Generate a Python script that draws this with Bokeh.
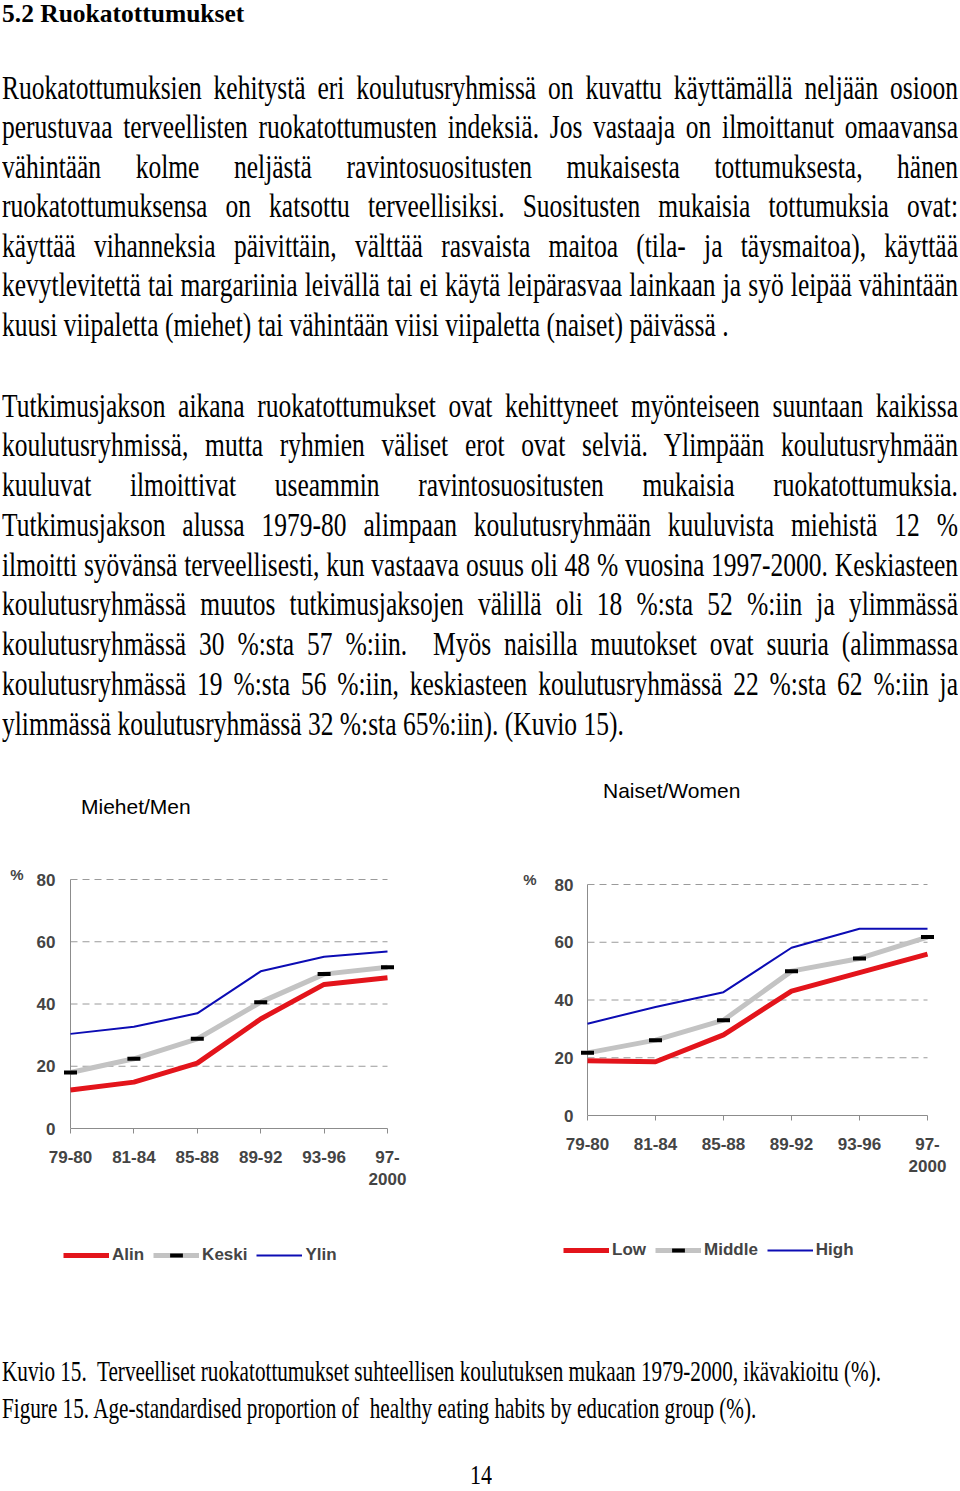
from bokeh.plotting import figure
from bokeh.models import Range1d, Div, Legend, LegendItem, FixedTicker
from bokeh.layouts import column, row
from bokeh.embed import file_html
from bokeh.resources import INLINE

# ---------------- data ----------------
periods = ["79-80", "81-84", "85-88", "89-92", "93-96", "97-\n2000"]
y_ticks = [0, 20, 40, 60, 80]

men_low = [12.4, 14.9, 21.0, 35.2, 46.3, 48.4]
men_mid = [18.0, 22.4, 28.8, 40.6, 49.6, 51.8]
men_high = [30.4, 32.7, 37.0, 50.5, 55.2, 56.9]

women_low = [19.0, 18.6, 27.9, 43.1, 49.5, 55.9]
women_mid = [21.7, 26.1, 33.0, 50.0, 54.4, 61.8]
women_high = [31.8, 37.6, 42.7, 58.1, 64.7, 64.7]

men_labels = ["Alin", "Keski", "Ylin"]
women_labels = ["Low", "Middle", "High"]
chart_titles = ["Miehet/Men", "Naiset/Women"]

heading = "5.2 Ruokatottumukset"
para1 = [
    "Ruokatottumuksien kehitystä eri koulutusryhmissä on kuvattu käyttämällä neljään osioon",
    "perustuvaa terveellisten ruokatottumusten indeksiä. Jos vastaaja on ilmoittanut omaavansa",
    "vähintään kolme neljästä ravintosuositusten mukaisesta tottumuksesta, hänen",
    "ruokatottumuksensa on katsottu terveellisiksi. Suositusten mukaisia tottumuksia ovat:",
    "käyttää vihanneksia päivittäin, välttää rasvaista maitoa (tila- ja täysmaitoa), käyttää",
    "kevytlevitettä tai margariinia leivällä tai ei käytä leipärasvaa lainkaan ja syö leipää vähintään",
    "kuusi viipaletta (miehet) tai vähintään viisi viipaletta (naiset) päivässä .",
]
para2 = [
    "Tutkimusjakson aikana ruokatottumukset ovat kehittyneet myönteiseen suuntaan kaikissa",
    "koulutusryhmissä, mutta ryhmien väliset erot ovat selviä. Ylimpään koulutusryhmään",
    "kuuluvat ilmoittivat useammin ravintosuositusten mukaisia ruokatottumuksia.",
    "Tutkimusjakson alussa 1979-80 alimpaan koulutusryhmään kuuluvista miehistä 12 %",
    "ilmoitti syövänsä terveellisesti, kun vastaava osuus oli 48 % vuosina 1997-2000. Keskiasteen",
    "koulutusryhmässä muutos tutkimusjaksojen välillä oli 18 %:sta 52 %:iin ja ylimmässä",
    "koulutusryhmässä 30 %:sta 57 %:iin.  Myös naisilla muutokset ovat suuria (alimmassa",
    "koulutusryhmässä 19 %:sta 56 %:iin, keskiasteen koulutusryhmässä 22 %:sta 62 %:iin ja",
    "ylimmässä koulutusryhmässä 32 %:sta 65%:iin). (Kuvio 15).",
]
captions = [
    "Kuvio 15.  Terveelliset ruokatottumukset suhteellisen koulutuksen mukaan 1979-2000, ikävakioitu (%).",
    "Figure 15. Age-standardised proportion of  healthy eating habits by education group (%).",
]
page_no = "14"

# ---------------- styles ----------------
RED = "#e3141b"
GRAY = "#c3c3c3"
BLUE = "#0c0cb4"
AXIS = "#8c8c8c"
GRID = "#9a9a9a"
SANS = "Liberation Sans"
SERIF = "Liberation Serif"

TOP_H = 850          # page y 0..850 (text + chart titles)
CHARTS_END = 1240    # chart figures: page y 850..1240
CHART_BOTTOM = 1290  # legend strip: page y 1240..1290
BOT_H = 200          # page y 1290..1490
PAGE_W = 958


def text_line(text, baseline, origin_y, size, scale, justify=False, bold=False,
              left=2, width=956, lh=30, font=SERIF, asc=0.891, desc=0.216):
    b = (lh - (asc + desc) * size) / 2 + asc * size
    top = baseline - origin_y - b
    txt = text.replace("  ", "&nbsp; ")
    st = (f"position:absolute;left:{left}px;top:{top:.1f}px;width:{width}px;"
          f"font-family:'{font}';font-size:{size}px;line-height:{lh}px;"
          f"white-space:nowrap;color:#000;transform:scaleY({scale});"
          f"transform-origin:0 {b:.1f}px;")
    if bold:
        st += "font-weight:bold;"
    if justify:
        st += "text-align:justify;text-align-last:justify;"
    else:
        st += "text-align:left;"
    return f'<div style="{st}">{txt}</div>'


parts = [text_line(heading, 23, 0, 25.5, 1.0, bold=True, lh=28.3)]
for i, t in enumerate(para1):
    parts.append(text_line(t, 99.3 + 39.55 * i, 0, 25.5, 1.32, justify=(i < len(para1) - 1)))
for i, t in enumerate(para2):
    parts.append(text_line(t, 417.3 + 39.75 * i, 0, 25.5, 1.32, justify=(i < len(para2) - 1)))
parts.append(text_line(chart_titles[0], 814, 0, 21, 1.0, left=81, width=300, lh=26,
                       font=SANS, asc=0.905, desc=0.212))
parts.append(text_line(chart_titles[1], 798, 0, 21, 1.0, left=603, width=300, lh=26,
                       font=SANS, asc=0.905, desc=0.212))
top_div = Div(text=f'<div style="position:relative;width:{PAGE_W}px;height:{TOP_H}px;overflow:hidden;">'
              + "".join(parts) + "</div>", width=PAGE_W, height=TOP_H, margin=0)

BOT_Y = CHART_BOTTOM
bparts = [text_line(captions[0], 1381, BOT_Y, 21.2, 1.35),
          text_line(captions[1], 1418, BOT_Y, 21.2, 1.35),
          text_line(page_no, 1484, BOT_Y, 22, 1.2, left=470, width=60, lh=24)]
bot_div = Div(text=f'<div style="position:relative;width:{PAGE_W}px;height:{BOT_H}px;overflow:hidden;">'
              + "".join(bparts) + "</div>", width=PAGE_W, height=BOT_H, margin=0)


def make_chart(low, mid, high, labels, fig_left, fig_w, x0_px, unit_x, y0_px, unit_y,
               pct_standoff, tick_standoff, legend_pos):
    n = len(periods)
    pad_px = 10
    fig_top = TOP_H
    frame_top = y0_px - y_ticks[-1] * unit_y - 5
    frame_left = x0_px - pad_px
    frame_right = x0_px + (n - 1) * unit_x + pad_px
    fig_h = CHARTS_END - fig_top

    def dx(px):
        return (px - x0_px) / unit_x

    p = figure(width=fig_w, height=fig_h,
               min_border_left=int(round(frame_left - fig_left)),
               min_border_right=int(round(fig_left + fig_w - frame_right)),
               min_border_top=int(round(frame_top - fig_top)),
               min_border_bottom=int(round(CHARTS_END - y0_px)),
               x_range=Range1d(dx(frame_left), dx(frame_right)),
               y_range=Range1d(y_ticks[0], y_ticks[-1] + 5 / unit_y),
               output_backend="svg", toolbar_location=None, margin=0)
    p.outline_line_color = None
    p.xgrid.visible = False
    p.ygrid.visible = False

    # y axis (labels in the left panel, rule drawn at the first category)
    p.yaxis.bounds = (y_ticks[0], y_ticks[-1])
    p.yaxis.ticker = FixedTicker(ticks=y_ticks)
    p.yaxis.axis_line_color = None
    p.yaxis.major_tick_in = 0
    p.yaxis.major_tick_out = 0
    p.yaxis.major_tick_line_color = None
    p.yaxis.minor_tick_line_color = None
    p.yaxis.major_label_text_font = SANS
    p.yaxis.major_label_text_font_style = "bold"
    p.yaxis.major_label_text_font_size = "17px"
    p.yaxis.major_label_standoff = tick_standoff
    p.yaxis.axis_label = "%"
    p.yaxis.axis_label_orientation = "horizontal"
    p.yaxis.axis_label_align = "end"
    p.yaxis.axis_label_standoff = pct_standoff
    p.yaxis.axis_label_text_font = SANS
    p.yaxis.axis_label_text_font_size = "15px"
    p.yaxis.axis_label_text_font_style = "bold"
    # x axis
    p.xaxis.ticker = FixedTicker(ticks=list(range(n)))
    p.xaxis.major_label_overrides = {i: lab for i, lab in enumerate(periods)}
    p.xaxis.bounds = (0, n - 1)
    p.xaxis.axis_line_color = AXIS
    p.xaxis.major_tick_line_color = AXIS
    p.xaxis.major_tick_in = 0
    p.xaxis.major_tick_out = 5
    p.xaxis.minor_tick_line_color = None
    p.xaxis.major_label_text_font = SANS
    p.xaxis.major_label_text_font_style = "bold"
    p.xaxis.major_label_text_font_size = "17px"
    p.xaxis.major_label_standoff = 14

    # dashed grid lines and the y axis rule
    gy = y_ticks[1:]
    p.multi_line(xs=[[0, n - 1]] * len(gy), ys=[[g, g] for g in gy],
                 line_color=GRID, line_width=1, line_dash="7 5")
    p.segment(x0=[0], y0=[y_ticks[0]], x1=[0], y1=[y_ticks[-1]], line_color=AXIS, line_width=1)

    xs = list(range(n))
    p.line(xs, mid, line_color=GRAY, line_width=5)
    p.scatter(xs, mid, marker="dash", size=13, line_color="black", line_width=4)
    p.line(xs, low, line_color=RED, line_width=5)
    p.line(xs, high, line_color=BLUE, line_width=2)

    # legend strip below the chart (series drawn outside its view, only the key shows)
    leg_h = CHART_BOTTOM - CHARTS_END
    lg = figure(width=fig_w, height=leg_h, min_border=0,
                x_range=Range1d(0, 1), y_range=Range1d(-2, -1),
                x_axis_type=None, y_axis_type=None, output_backend="svg",
                toolbar_location=None, margin=0)
    lg.outline_line_color = None
    lg.xgrid.visible = False
    lg.ygrid.visible = False
    k_low = lg.line(xs, low, line_color=RED, line_width=5)
    k_mid = lg.line(xs, mid, line_color=GRAY, line_width=5)
    k_mid_m = lg.scatter(xs, mid, marker="dash", size=13, line_color="black", line_width=4)
    k_high = lg.line(xs, high, line_color=BLUE, line_width=2)
    legend = Legend(items=[LegendItem(label=labels[0], renderers=[k_low]),
                           LegendItem(label=labels[1], renderers=[k_mid, k_mid_m]),
                           LegendItem(label=labels[2], renderers=[k_high])],
                    orientation="horizontal",
                    location=(legend_pos[0] - fig_left, CHART_BOTTOM - (legend_pos[1] + 16)),
                    glyph_width=46, glyph_height=32, label_standoff=3, spacing=9,
                    padding=0, margin=0, border_line_color=None,
                    background_fill_alpha=0,
                    label_text_font=SANS, label_text_font_style="bold",
                    label_text_font_size="17px", label_height=20)
    lg.add_layout(legend)
    # wrap in its own column so the two charts' frames are not aligned to each other
    return column(p, margin=0), lg


# page coordinates measured on the reference
p_men, lg_men = make_chart(men_low, men_mid, men_high, men_labels,
                           fig_left=0, fig_w=488, x0_px=70, unit_x=63.4, y0_px=1128, unit_y=3.1125,
                           pct_standoff=10, tick_standoff=5, legend_pos=(63, 1255))
p_women, lg_women = make_chart(women_low, women_mid, women_high, women_labels,
                               fig_left=488, fig_w=470, x0_px=587, unit_x=68.0, y0_px=1115,
                               unit_y=2.8875, pct_standoff=15, tick_standoff=4,
                               legend_pos=(563, 1250))

layout = column(top_div, row(p_men, p_women, margin=0), row(lg_men, lg_women, margin=0), bot_div,
                margin=0)

with open("out.html", "w") as f:
    f.write(file_html(layout, INLINE))
